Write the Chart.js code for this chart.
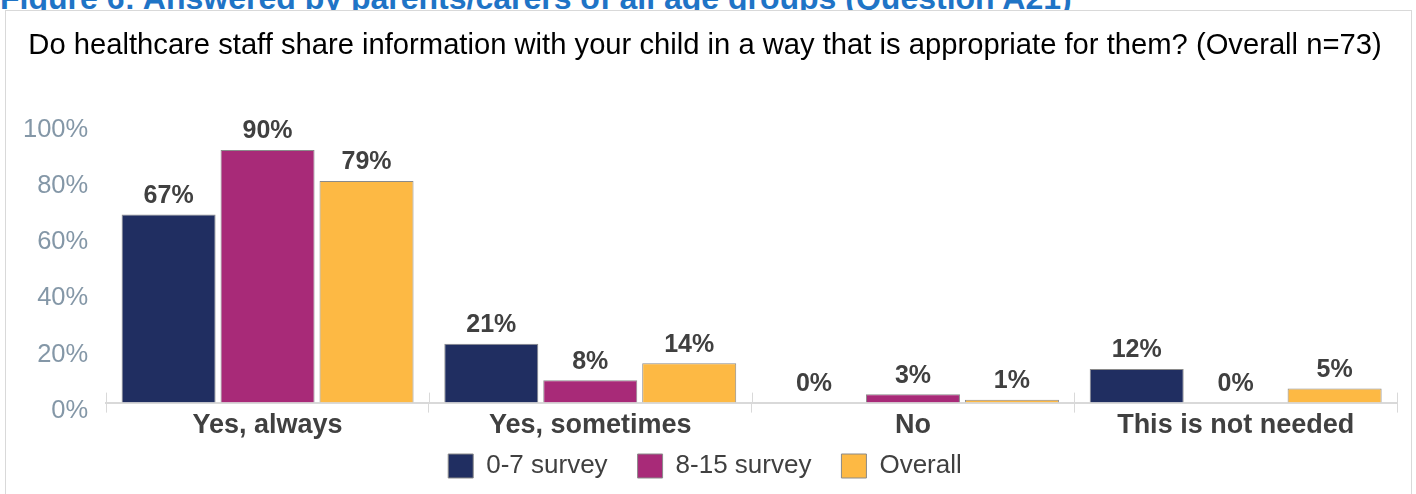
<!DOCTYPE html>
<html>
<head>
<meta charset="utf-8">
<script src="https://cdn.jsdelivr.net/npm/chart.js@4.4.1/dist/chart.umd.min.js"></script>
<style>
  html, body { margin: 0; padding: 0; background: #fff; overflow: hidden; }
  #heading {
    position: absolute; left: 0; top: -20px; white-space: nowrap; line-height: 32px;
    font: bold 32px "Liberation Sans", Arial, sans-serif; color: #1f74c6;
  }
  #frame {
    position: absolute; left: 5px; top: 10px; width: 1405px; height: 500px;
    border: 1px solid #d9d9d9; background: #fff;
  }
  #chart { position: absolute; left: 0; top: 0; }
</style>
</head>
<body>
<div id="heading">Figure 6: Answered by parents/carers of all age groups (Question A21)</div>
<div id="frame"></div>
<canvas id="chart" width="1416" height="494"></canvas>
<script>
const categories = ['Yes, always', 'Yes, sometimes', 'No', 'This is not needed'];
const survey0to7 = [67, 21, 0, 12];
const survey8to15 = [90, 8, 3, 0];
const overall = [79, 14, 1, 5];
const yTicks = [0, 20, 40, 60, 80, 100];

const FONT = '"Liberation Sans", Arial, sans-serif';

// value labels above bars + the small tick marks above the axis line
const barLabels = {
  id: 'barLabels',
  afterLayout(chart) {
    // legend padding is wide for the item spacing, pull the row back up under the axis
    chart.legend.top -= 16;
  },
  afterDatasetsDraw(chart) {
    const { ctx } = chart;
    ctx.save();
    ctx.font = `bold 25px ${FONT}`;
    ctx.fillStyle = '#404040';
    ctx.textAlign = 'center';
    ctx.textBaseline = 'bottom';
    chart.data.datasets.forEach((ds, i) => {
      chart.getDatasetMeta(i).data.forEach((bar, j) => {
        ctx.fillText(`${ds.data[j]}%`, bar.x, bar.y - 6);
      });
    });
    const area = chart.chartArea;
    const step = (area.right - area.left) / categories.length;
    ctx.strokeStyle = '#d9d9d9';
    ctx.lineWidth = 1;
    for (let k = 0; k <= categories.length; k += 1) {
      const x = Math.round(area.left + step * k) + 0.5;
      ctx.beginPath();
      ctx.moveTo(x, area.bottom - 10);
      ctx.lineTo(x, area.bottom);
      ctx.stroke();
    }
    ctx.restore();
  }
};

const ctx = document.getElementById('chart');
// eslint-disable-next-line no-new
new Chart(ctx, {
  type: 'bar',
  data: {
    labels: categories,
    datasets: [
      { label: '0-7 survey', data: survey0to7, backgroundColor: '#202e61' },
      { label: '8-15 survey', data: survey8to15, backgroundColor: '#a82a78' },
      { label: 'Overall', data: overall, backgroundColor: '#fdb944' },
    ].map((ds) => ({
      ...ds,
      borderColor: '#8a8a8a',
      borderWidth: 1,
      borderSkipped: 'bottom',
      categoryPercentage: 0.92,
      barPercentage: 0.95,
    }))
  },
  options: {
    responsive: false,
    devicePixelRatio: 1,
    animation: false,
    layout: { padding: { left: 13, right: 19, top: 0, bottom: 0 } },
    plugins: {
      title: {
        display: true,
        text: 'Do healthcare staff share information with your child in a way that is appropriate for them? (Overall n=73)',
        color: '#000',
        font: { family: FONT, size: 29.2, weight: 'normal' },
        padding: { top: 28, bottom: 59 }
      },
      legend: {
        position: 'bottom',
        maxHeight: 55,
        labels: {
          color: '#404040',
          font: { family: FONT, size: 26 },
          boxWidth: 25,
          boxHeight: 24,
          padding: 30
        }
      },
      tooltip: { enabled: false }
    },
    scales: {
      x: {
        grid: { display: true, drawOnChartArea: false, offset: true, tickLength: 10, color: '#d9d9d9' },
        border: { display: true, color: '#d9d9d9', width: 2 },
        ticks: { color: '#404040', font: { family: FONT, size: 27, weight: 'bold' }, padding: -3 }
      },
      y: {
        min: 0,
        max: 100,
        afterBuildTicks: (scale) => { scale.ticks = yTicks.map((v) => ({ value: v })); },
        grid: { display: false },
        border: { display: false },
        ticks: {
          color: '#8497a7',
          font: { family: FONT, size: 25.5 },
          padding: 10,
          labelOffset: 8,
          callback: (v) => `${v}%`
        }
      }
    }
  },
  plugins: [barLabels]
});
</script>
</body>
</html>
